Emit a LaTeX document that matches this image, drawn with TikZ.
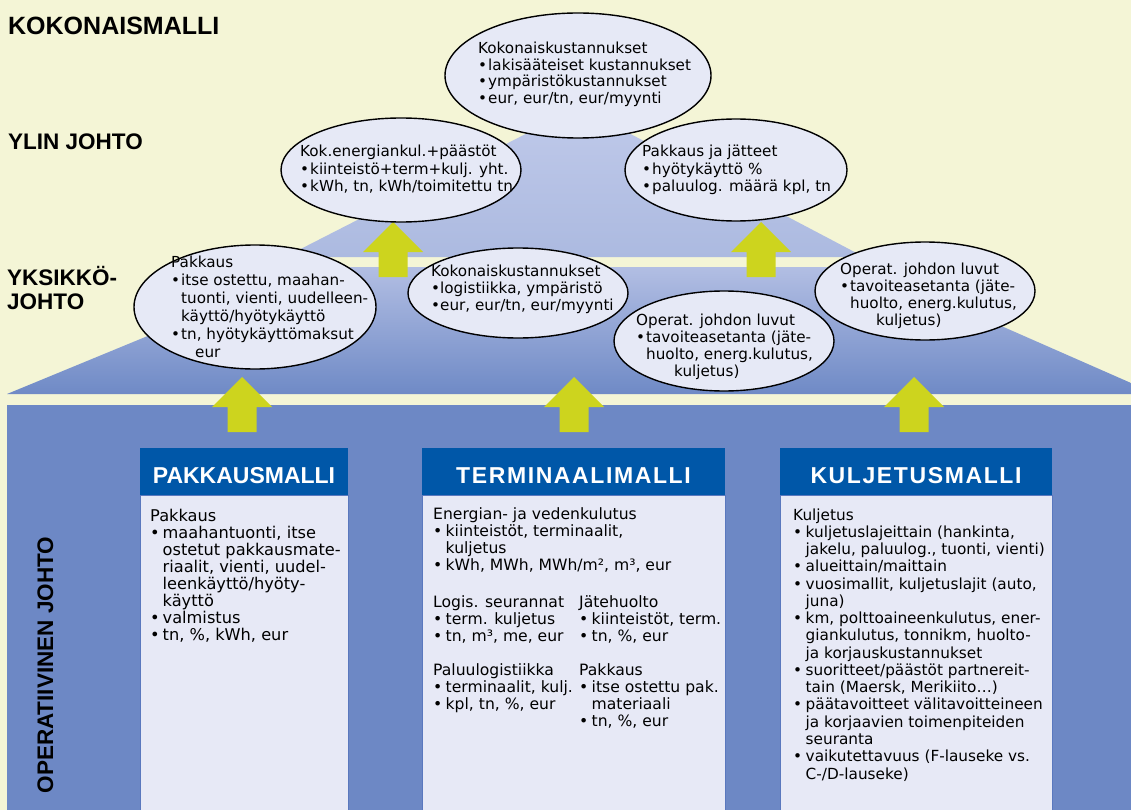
\documentclass[tikz,border=0pt]{standalone}
\usepackage{fontspec}
\setmainfont{DejaVu Sans}
\newfontfamily\hfont{Liberation Sans}
\newfontfamily\hfontw{Liberation Sans}[LetterSpace=7.0]

\definecolor{bgyel}{RGB}{244,245,214}
\definecolor{opblue}{RGB}{109,136,197}
\definecolor{uptop}{RGB}{190,200,233}
\definecolor{upbot}{RGB}{172,186,224}
\definecolor{lowtop}{RGB}{178,190,227}
\definecolor{lowbot}{RGB}{111,138,198}
\definecolor{ovfill}{RGB}{230,233,246}
\definecolor{arrgreen}{RGB}{205,212,30}
\definecolor{hdrblue}{RGB}{0,87,168}
\definecolor{boxfill}{RGB}{231,233,246}
\definecolor{boxline}{RGB}{90,120,190}

\tikzstyle{oval}=[draw=black,line width=1.4pt,fill=ovfill]
\tikzstyle{txt}=[anchor=base west,inner sep=0pt,font=\fontsize{15.2}{17.3}\selectfont]
\tikzstyle{level}=[anchor=base west,inner sep=0pt,font=\hfont\bfseries\fontsize{22.5}{20}\selectfont]
\tikzstyle{hdr}=[fill=hdrblue,text=white,inner sep=0pt,minimum height=47pt,text height=23pt,text depth=0pt]
\tikzstyle{body}=[fill=boxfill,draw=boxline,line width=1pt]
\tikzstyle{uparrow}=[fill=arrgreen]

\newcommand{\blk}[1]{\parbox[t]{330pt}{#1}}
\newcommand{\ovbul}[1][10pt]{\makebox[#1][l]{\textbullet}}
\newcommand{\ovind}[1][10pt]{\hspace*{#1}}
\newcommand{\mybul}{\makebox[12.5pt][l]{\textbullet}}
\newcommand{\myind}{\hspace*{12.5pt}}
\newcommand{\uparr}[3]{\fill[uparrow] (#1,#2) -- ++(30,30) -- ++(-15.5,0) -- (#1+14.5,#3) -- (#1-14.5,#3) -- (#1-14.5,#2+30) -- ++(-15.5,0) -- cycle;}

\begin{document}
\begin{tikzpicture}[x=1pt,y=-1pt]
	\useasboundingbox (0,0) rectangle (1131,810);
	\fill[bgyel] (0,0) rectangle (1131,810);
	\shade[top color=uptop,bottom color=upbot]
		(553,120) -- (604,120) -- (864,257) -- (285,257) -- cycle;
	\shade[top color=lowtop,bottom color=lowbot]
		(315,267) -- (867,267) -- (1131,383) -- (1131,394) -- (7,394) -- cycle;
	\fill[opblue] (7,405) rectangle (1131,810);
	\uparr{393}{222}{277}
	\uparr{761}{222}{277}
	\uparr{242}{377}{432}
	\uparr{574}{377}{432}
	\uparr{914}{377}{432}
	\draw[oval] (578,75.5) ellipse (133 and 62.5);
	\draw[oval]
		(401,170) ellipse (120 and 52)
		(736,170) ellipse (111 and 51);
	\draw[oval]
		(255,307) ellipse (121 and 62)
		(518,293) ellipse (110 and 45)
		(724,341) ellipse (110 and 50)
		(925,291) ellipse (110 and 49);
	\draw[body] (140,495) rectangle (348,815);
	\draw[body] (422,495) rectangle (725,815);
	\draw[body] (780,495) rectangle (1052,815);
	\node[hdr,minimum width=208pt] (pakhdr) at (244,471.5) {\hfont\bfseries\fontsize{23}{23}\selectfont PAKKAUSMALLI};
	\node[hdr,minimum width=303pt] (termhdr) at (573.5,471.5) {\hfontw\bfseries\fontsize{23}{23}\selectfont TERMINAALIMALLI};
	\node[hdr,minimum width=272pt] (kulhdr) at (916,471.5) {\hfontw\bfseries\fontsize{23}{23}\selectfont KULJETUSMALLI};

	\node[level,font=\hfont\bfseries\fontsize{25}{25}\selectfont] (kokmalli) at (8,35) {KOKONAISMALLI};
	\node[level] (ylin) at (8,150) {YLIN JOHTO};
	\node[level] (yksikko) at (7,285) {YKSIKKÖ-};
	\node[level] (yksjohto) at (7,309) {JOHTO};
	\node[level,anchor=base,rotate=90] (operjohto) at (53,665) {OPERATIIVINEN JOHTO};

	\node[txt,font=\fontsize{15.2}{16.4}\selectfont] (kokteksti) at (478,54) {\blk{Kokonaiskustannukset\\
		\ovbul lakisääteiset kustannukset\\
		\ovbul ympäristökustannukset\\
		\ovbul eur, eur/tn, eur/myynti}};
	\node[txt] (energia) at (300,157) {\blk{Kok.energiankul.+päästöt\\
		\ovbul kiinteistö+term+kulj. yht.\\
		\ovbul kWh, tn, kWh/toimitettu tn}};
	\node[txt] (jatteet) at (642,157) {\blk{Pakkaus ja jätteet\\
		\ovbul hyötykäyttö \%\\
		\ovbul paluulog. määrä kpl, tn}};
	\node[txt,font=\fontsize{15.2}{18}\selectfont] (pakkaus) at (171,267) {\blk{Pakkaus\\
		\ovbul itse ostettu, maahan-\\
		\ovind tuonti, vienti, uudelleen-\\
		\ovind käyttö/hyötykäyttö\\
		\ovbul tn, hyötykäyttömaksut\\
		\ovind[24pt]eur}};
	\node[txt] (kustann) at (431,276) {\blk{Kokonaiskustannukset\\
		\ovbul[9pt]logistiikka, ympäristö\\
		\ovbul[9pt]eur, eur/tn, eur/myynti}};
	\node[txt] (operala) at (636,325) {\blk{Operat. johdon luvut\\
		\ovbul tavoiteasetanta (jäte-\\
		\ovind huolto, energ.kulutus,\\
		\ovind[38pt]kuljetus)}};
	\node[txt] (operyla) at (840,274) {\blk{Operat. johdon luvut\\
		\ovbul tavoiteasetanta (jäte-\\
		\ovind huolto, energ.kulutus,\\
		\ovind[36pt]kuljetus)}};

	\node[txt,font=\fontsize{16.2}{17.1}\selectfont] (pakteksti) at (150,521) {\blk{Pakkaus\\
		\mybul maahantuonti, itse\\
		\myind ostetut pakkausmate-\\
		\myind riaalit, vienti, uudel-\\
		\myind leenkäyttö/hyöty-\\
		\myind käyttö\\
		\mybul valmistus\\
		\mybul tn, \%, kWh, eur}};
	\node[txt,font=\fontsize{15.6}{17}\selectfont] (termvasen) at (433,519) {\blk{Energian- ja vedenkulutus\\
		\mybul kiinteistöt, terminaalit,\\
		\myind kuljetus\\
		\mybul kWh, MWh, MWh/m², m³, eur\\[20pt]
		Logis. seurannat\\
		\mybul term. kuljetus\\
		\mybul tn, m³, me, eur\\[17pt]
		Paluulogistiikka\\
		\mybul terminaalit, kulj.\\
		\mybul kpl, tn, \%, eur}};
	\node[txt,font=\fontsize{15.6}{17}\selectfont] (termoikea) at (579,607) {\blk{Jätehuolto\\
		\mybul kiinteistöt, term.\\
		\mybul tn, \%, eur\\[17pt]
		Pakkaus\\
		\mybul itse ostettu pak.\\
		\myind materiaali\\
		\mybul tn, \%, eur}};
	\node[txt,font=\fontsize{15.3}{17.27}\selectfont] (kulteksti) at (793,520) {\blk{Kuljetus\\
		\mybul kuljetuslajeittain (hankinta,\\
		\myind jakelu, paluulog., tuonti, vienti)\\
		\mybul alueittain/maittain\\
		\mybul vuosimallit, kuljetuslajit (auto,\\
		\myind juna)\\
		\mybul km, polttoaineenkulutus, ener-\\
		\myind giankulutus, tonnikm, huolto-\\
		\myind ja korjauskustannukset\\
		\mybul suoritteet/päästöt partnereit-\\
		\myind tain (Maersk, Merikiito…)\\
		\mybul päätavoitteet välitavoitteineen\\
		\myind ja korjaavien toimenpiteiden\\
		\myind seuranta\\
		\mybul vaikutettavuus (F-lauseke vs.\\
		\myind C-/D-lauseke)}};
\end{tikzpicture}
\end{document}
